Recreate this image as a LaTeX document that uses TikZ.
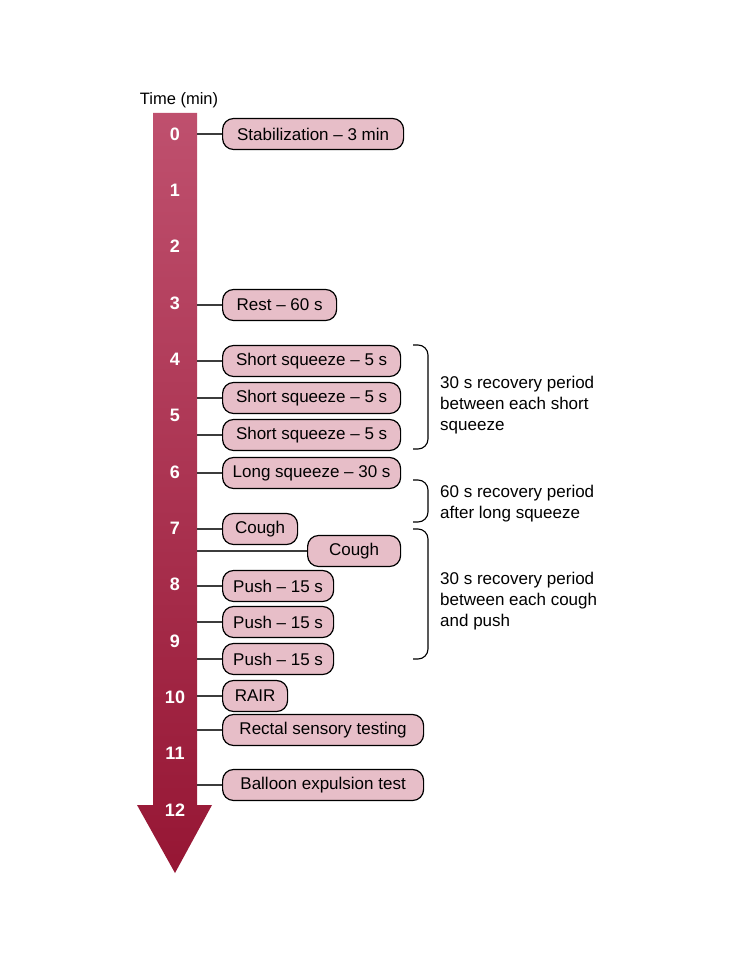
\documentclass[tikz,border=0pt]{standalone}
\usepackage{fontspec}
\setmainfont{Liberation Sans}
\usetikzlibrary{calc}
\definecolor{tlrosetop}{RGB}{191, 80, 110}
\definecolor{tlrosebot}{RGB}{150, 22, 52}
\definecolor{tlpink}{RGB}{231, 190, 200}
\definecolor{tlline}{RGB}{60, 60, 60}

\begin{document}
\begin{tikzpicture}[x=1pt, y=-1pt,
    evbox/.style={draw=black, line width=1.2pt, fill=tlpink, rounded corners=11pt,
        minimum height=31pt, inner xsep=0pt, anchor=west, font=\fontsize{17}{20}\selectfont},
    numlabel/.style={text=white, font=\fontsize{18}{20}\selectfont\bfseries},
    link/.style={draw=tlline, line width=1.1pt},
    recov/.style={draw=black, line width=1.1pt, rounded corners=10pt},
    note/.style={anchor=west, align=left, inner xsep=0pt, font=\fontsize{17}{21}\selectfont}]

\useasboundingbox (0,0) rectangle (741,960);

% === Eje de tiempo ===
\node[font=\fontsize{16.5}{20}\selectfont] (title) at (179, 100) {Time (min)};
\shade[top color=tlrosetop, bottom color=tlrosebot]
    (153,113) -- (197,113) -- (197,805) -- (212,805) -- (175,873)
    -- (137,805) -- (153,805) -- cycle;
\coordinate (shaftR) at (197, 0);

\foreach \n in {0,...,12} {
    \node[numlabel] (t\n) at (175, 134+56.33*\n) {\n};
}

% === Eventos ===
\node[evbox, minimum width=181] (stab) at (222, 134) {Stabilization – 3 min};
\node[evbox, minimum width=114] (rest) at (222, 305) {Rest – 60 s};
\node[evbox, minimum width=178] (sq1) at (222, 361) {Short squeeze – 5 s};
\node[evbox, minimum width=178] (sq2) at (222, 398) {Short squeeze – 5 s};
\node[evbox, minimum width=178] (sq3) at (222, 435) {Short squeeze – 5 s};
\node[evbox, minimum width=178] (longsq) at (222, 473) {Long squeeze – 30 s};
\node[evbox, minimum width=75] (cough1) at (222, 529) {Cough};
\node[evbox, minimum width=93] (cough2) at (307, 551) {Cough};
\node[evbox, minimum width=111] (push1) at (222, 586) {Push – 15 s};
\node[evbox, minimum width=111] (push2) at (222, 622) {Push – 15 s};
\node[evbox, minimum width=111] (push3) at (222, 659) {Push – 15 s};
\node[evbox, minimum width=65] (rair) at (222, 696) {RAIR};
\node[evbox, minimum width=201] (rectal) at (222, 730) {Rectal sensory testing};
\node[evbox, minimum width=201] (balloon) at (222, 785) {Balloon expulsion test};

% Conectores al eje
\foreach \b in {stab,rest,sq1,sq2,sq3,longsq,cough1,cough2,push1,push2,push3,rair,rectal,balloon} {
    \draw[link] (shaftR |- \b.west) -- (\b.west);
}

% === Periodos de recuperacion ===
\draw[recov] (413,345) -- (428,345) -- (428,449) -- (413,449);
\node[note] (recsq) at (440, 405) {30 s recovery period\\between each short\\squeeze};

\draw[recov] (413,480) -- (428,480) -- (428,522) -- (413,522);
\node[note] (reclong) at (440, 504) {60 s recovery period\\after long squeeze};

\draw[recov] (413,529) -- (428,529) -- (428,659) -- (413,659);
\node[note] (reccough) at (440, 601) {30 s recovery period\\between each cough\\and push};

\end{tikzpicture}
\end{document}
